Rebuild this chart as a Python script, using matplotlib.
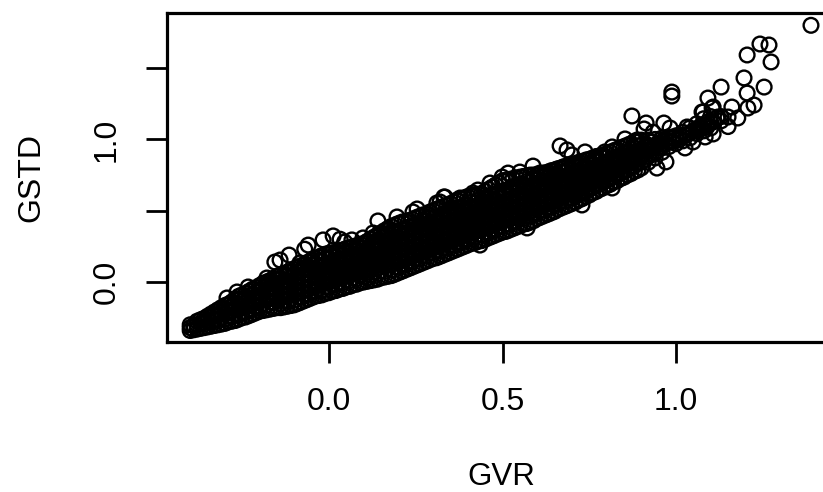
import matplotlib
matplotlib.use("Agg")
import matplotlib.pyplot as plt

plt.rcParams['font.family'] = ['Liberation Sans', 'DejaVu Sans']

# Individually readable points at the edges of the cloud
outlier_gvr = [1.389, 1.242, 1.268, 1.205, 1.274, 1.196, 1.254, 1.130, 1.205, 1.092, 1.225, 1.207, 1.161,
               1.107, 1.075, 1.150, 1.130, 1.150, 1.178, 0.988, 0.988, 0.873, 0.914, 0.965, 1.032, 0.908,
               0.983, 0.666, 0.686, 0.700, 0.738, 0.853, 0.816, 0.795, 0.588, 0.550, 0.516, 0.499, 0.464,
               0.429, 0.334, 0.378, 0.945, 0.971, 0.729, 0.816, 1.026, 1.049, 1.084, 1.107, -0.115, -0.156,
               -0.141, -0.060, -0.017, 0.012, 0.032, -0.265, -0.233, 0.141, 0.127, 0.196, 0.254, 0.331,
               0.320, 0.369, -0.070, 0.045, 0.765, 0.640, 1.060, 1.090,
               .888, .934, .954, .991, 1.04, 1.063, 1.078, 1.104, 1.121, 1.107, 1.089, 1.13, 1.118,
               .608, .631, .674, .767, .651, .744, .415, .435, .571, .066, .098, .167, .242, .311, -.179,
               -.294, -.084,
               .91, .93, .95, .97, .99, 1.01, 1.03, .91, .93, .95, .97, .99, .91, .93, 1.01, 1.05, 1.07, 1.09]
outlier_gstd = [1.80, 1.669, 1.662, 1.592, 1.543, 1.431, 1.367, 1.367, 1.325, 1.29, 1.241, 1.22, 1.227,
                1.227, 1.192, 1.157, 1.13, 1.09, 1.15, 1.332, 1.304, 1.164, 1.115, 1.115, 1.087, 1.073,
                1.08, 0.954, 0.926, 0.891, 0.912, 1.003, 0.947, 0.912, 0.813, 0.771, 0.764, 0.736, 0.694,
                0.645, 0.596, 0.589, 0.799, 0.842, 0.54, 0.659, 0.94, 0.982, 1.017, 1.038, 0.189, 0.14,
                0.154, 0.259, 0.295, 0.323, 0.30, -0.07, -0.035, 0.428, 0.344, 0.456, 0.512, 0.596,
                0.561, 0.575, 0.23, 0.28, 0.86, 0.76, 1.06, 1.10,
                .996, 1.05, .996, 1.01, 1.045, 1.066, 1.192, 1.22, 1.157, 1.122, 1.087, 1.16, 1.15,
                .764, .736, .806, .855, .785, .855, .624, .259, .379, .295, .309, .365, .491, .554, .028,
                -.112, .133,
                .86, .90, .94, .97, .985, 1.0, 1.03, .90, .94, .97, 1.0, 1.015, .95, .98, 1.03, 1.06, 1.09, 1.12]

# Dense band, read column by column: GVR of each column and the GSTD values in it
band_gvr = [-.40, -.38, -.36, -.34, -.32, -.30, -.28, -.26, -.24, -.22, -.20, -.18, -.16, -.14, -.12, -.10,
            -.08, -.06, -.04, -.02, 0.0, .02, .04, .06, .08, .10, .12, .14, .16, .18, .20, .22, .24, .26,
            .28, .30, .32, .34, .36, .38, .40, .42, .44, .46, .48, .50, .52, .54, .56, .58, .60, .62, .64,
            .66, .68, .70, .72, .74, .76, .78, .80, .82, .84, .86, .88, .90, .92, .94, .96, .98, 1.00,
            1.02, 1.04, 1.06, 1.08, 1.10]
band_gstd = [
    [-.34, -.32, -.30], [-.33, -.30, -.275], [-.32, -.285, -.255], [-.31, -.28, -.25, -.225],
    [-.30, -.265, -.23, -.195], [-.29, -.26, -.225, -.19, -.165], [-.275, -.24, -.205, -.17, -.14],
    [-.26, -.225, -.19, -.16, -.125, -.10], [-.245, -.21, -.175, -.14, -.105, -.08],
    [-.225, -.19, -.155, -.12, -.085, -.05], [-.205, -.17, -.135, -.10, -.065, -.025],
    [-.195, -.16, -.125, -.09, -.055, -.02, 0.0], [-.185, -.145, -.11, -.075, -.04, -.005, .025],
    [-.18, -.15, -.115, -.08, -.045, -.01, .025, .05], [-.17, -.135, -.10, -.06, -.025, .01, .045, .07],
    [-.16, -.125, -.09, -.055, -.02, .015, .05, .085], [-.14, -.105, -.07, -.03, .005, .04, .08, .115],
    [-.12, -.085, -.05, -.015, .02, .06, .10, .14], [-.10, -.065, -.03, .01, .05, .09, .13, .165],
    [-.09, -.055, -.015, .025, .065, .105, .145, .185], [-.075, -.035, .005, .045, .085, .125, .165, .20],
    [-.06, -.02, .02, .06, .10, .14, .175, .21], [-.045, -.005, .035, .075, .115, .155, .19, .225],
    [-.03, .01, .05, .09, .13, .17, .205, .24], [-.015, .025, .065, .105, .145, .185, .22, .255],
    [0.0, .04, .08, .12, .16, .20, .235, .27], [.01, .05, .09, .13, .17, .21, .25, .30],
    [.02, .06, .10, .14, .18, .22, .26, .295, .33], [.035, .075, .115, .155, .195, .235, .275, .32, .36],
    [.045, .085, .125, .165, .205, .245, .285, .325, .39], [.065, .105, .145, .185, .225, .265, .305, .35, .41],
    [.085, .125, .165, .205, .245, .285, .325, .365, .425], [.105, .145, .185, .225, .265, .305, .345, .385, .44],
    [.125, .165, .205, .245, .285, .325, .365, .405, .46], [.145, .185, .225, .265, .305, .345, .385, .43, .475],
    [.165, .205, .245, .285, .325, .365, .405, .445, .50], [.18, .22, .26, .30, .34, .38, .42, .46, .52],
    [.20, .24, .28, .32, .36, .40, .44, .48, .54], [.22, .26, .30, .34, .38, .42, .46, .50, .56],
    [.24, .28, .32, .36, .40, .44, .48, .52, .585], [.26, .30, .34, .38, .42, .46, .50, .54, .60],
    [.275, .315, .355, .395, .435, .475, .515, .555, .61], [.29, .33, .37, .41, .45, .49, .53, .57, .62],
    [.31, .35, .39, .43, .47, .51, .55, .59, .65], [.33, .37, .41, .45, .49, .53, .57, .61, .68],
    [.35, .39, .43, .47, .51, .55, .59, .63, .71], [.365, .405, .445, .485, .525, .565, .605, .645, .72],
    [.385, .425, .465, .505, .545, .585, .625, .665, .73], [.405, .445, .485, .525, .565, .605, .645, .685, .74],
    [.42, .46, .50, .54, .58, .62, .66, .70, .75], [.445, .485, .525, .565, .605, .645, .685, .72, .755],
    [.465, .505, .545, .585, .625, .665, .70, .735, .765], [.485, .525, .565, .605, .645, .685, .72, .78],
    [.51, .55, .59, .63, .67, .71, .75, .795], [.53, .57, .61, .65, .69, .73, .77, .81],
    [.55, .59, .63, .67, .71, .75, .79, .825], [.575, .615, .655, .695, .735, .775, .815, .84],
    [.60, .64, .68, .72, .76, .80, .855], [.625, .665, .705, .745, .785, .825, .87],
    [.65, .69, .73, .77, .81, .85, .885], [.675, .715, .755, .795, .835, .87, .90],
    [.70, .74, .78, .82, .86, .92], [.725, .765, .805, .845, .885, .94], [.75, .79, .83, .87, .91, .96],
    [.775, .815, .855, .895, .935, .985], [.80, .84, .88, .92, .96, .995], [.84, .88, .92, .96, .995],
    [.87, .91, .95, 1.0], [.91, .95, .985, 1.01], [.95, .985, 1.015], [.97, 1.0, 1.025], [.99, 1.02, 1.05],
    [1.01, 1.045, 1.08], [1.04, 1.075, 1.11], [1.06, 1.10, 1.145], [1.08, 1.12, 1.16],
]

# Second pass over the same band, read between the columns above
mid_gvr = [-.39, -.37, -.35, -.33, -.31, -.29, -.27, -.25, -.23, -.21, -.19, -.17, -.15, -.13, -.11, -.09,
           -.07, -.05, -.03, -.01, .01, .03, .05, .07, .09, .11, .13, .15, .17, .19, .21, .23, .25, .27,
           .29, .31, .33, .35, .37, .39, .41, .43, .45, .47, .49, .51, .53, .55, .57, .59, .61, .63, .65,
           .67, .69, .71, .73, .75, .77, .79, .81, .83, .85, .87, .89]
mid_gstd = [
    [-.335, -.305], [-.325, -.29, -.265], [-.315, -.27, -.24], [-.305, -.265, -.235, -.21],
    [-.295, -.25, -.21, -.18], [-.28, -.24, -.205, -.155], [-.27, -.225, -.185, -.15, -.12],
    [-.25, -.21, -.17, -.13, -.09], [-.235, -.195, -.155, -.12, -.065], [-.215, -.175, -.135, -.10, -.07, -.04],
    [-.20, -.15, -.115, -.08, -.04, -.01], [-.19, -.14, -.105, -.07, -.035, .01], [-.18, -.13, -.09, -.055, -.02, .015, .04],
    [-.175, -.13, -.095, -.06, -.025, .01, .055], [-.165, -.115, -.08, -.04, -.005, .03, .075],
    [-.15, -.105, -.07, -.035, 0.0, .035, .07, .10], [-.13, -.085, -.05, -.01, .025, .06, .10, .125],
    [-.11, -.065, -.03, .005, .04, .08, .12, .155], [-.095, -.045, -.01, .03, .07, .11, .15, .175],
    [-.08, -.035, .005, .045, .085, .125, .165, .195], [-.065, -.015, .025, .065, .105, .145, .18, .205],
    [-.05, -.005, .04, .08, .12, .16, .195, .22], [-.035, .015, .055, .095, .135, .175, .21, .235],
    [-.02, .03, .07, .11, .15, .19, .225, .25], [-.005, .045, .085, .125, .165, .205, .24, .265],
    [.005, .03, .07, .11, .15, .19, .23, .27, .285], [.015, .07, .11, .15, .19, .23, .27, .315],
    [.03, .08, .12, .16, .20, .24, .28, .31, .345], [.04, .095, .135, .175, .215, .255, .295, .34, .375],
    [.055, .105, .145, .185, .225, .265, .305, .345, .40], [.075, .125, .165, .205, .245, .285, .325, .37, .42],
    [.095, .145, .185, .225, .265, .305, .345, .385, .43], [.115, .165, .205, .245, .285, .325, .365, .405, .45],
    [.135, .185, .225, .265, .305, .345, .385, .425, .47], [.155, .205, .245, .285, .325, .365, .405, .45, .49],
    [.17, .22, .26, .30, .34, .38, .42, .46, .51], [.19, .24, .28, .32, .36, .40, .44, .48, .53],
    [.21, .26, .30, .34, .38, .42, .46, .50, .55], [.23, .28, .32, .36, .40, .44, .48, .52, .57],
    [.25, .30, .34, .38, .42, .46, .50, .54, .59], [.27, .32, .36, .40, .44, .48, .52, .56, .605],
    [.285, .335, .375, .415, .455, .495, .535, .575, .615], [.30, .35, .39, .43, .47, .51, .55, .59, .635],
    [.32, .37, .41, .45, .49, .53, .57, .61, .665], [.34, .39, .43, .47, .51, .55, .59, .63, .695],
    [.355, .405, .445, .485, .525, .565, .605, .645, .715], [.375, .425, .465, .505, .545, .585, .625, .665, .725],
    [.395, .445, .485, .525, .565, .605, .645, .685, .735], [.41, .465, .505, .545, .585, .625, .665, .705, .745],
    [.43, .48, .52, .56, .60, .64, .68, .72, .75], [.455, .505, .545, .585, .625, .665, .705, .76],
    [.475, .525, .565, .605, .645, .685, .725, .77], [.495, .545, .585, .625, .665, .705, .745, .785],
    [.52, .57, .61, .65, .69, .73, .77, .80], [.54, .59, .63, .67, .71, .75, .79, .815],
    [.56, .61, .65, .69, .73, .77, .81, .83], [.585, .635, .675, .715, .755, .795, .845],
    [.61, .66, .70, .74, .78, .82, .86], [.635, .685, .725, .765, .805, .845, .88],
    [.66, .71, .75, .79, .83, .87, .89], [.685, .735, .775, .815, .855, .91],
    [.71, .76, .80, .84, .88, .93], [.735, .785, .825, .865, .905, .95],
    [.76, .81, .85, .89, .93, .97], [.785, .835, .875, .915, .955, .99],
]

x_ticks = [0.0, 0.5, 1.0]
x_tick_labels = ['0.0', '0.5', '1.0']
y_ticks = [0.0, 0.5, 1.0, 1.5]
y_tick_labels = ['0.0', '', '1.0', '']

W, H = 823, 492
fig = plt.figure(figsize=(W / 100, H / 100), dpi=100)
ax = fig.add_axes([166.5 / W, 1 - 341.5 / H, (832 - 166.5) / W, (341.5 - 13) / H])
ax.set_xlim((166.5 - 329) / 347, (832 - 329) / 347)
ax.set_ylim((282 - 341.5) / 142.6, (282 - 13) / 142.6)

xs = ([x for x, col in zip(band_gvr, band_gstd) for _ in col]
      + [x for x, col in zip(mid_gvr, mid_gstd) for _ in col] + outlier_gvr)
ys = [y for col in band_gstd for y in col] + [y for col in mid_gstd for y in col] + outlier_gstd
ax.scatter(xs, ys, s=112, facecolors='none', edgecolors='black', linewidths=1.7, clip_on=True)

for s in ax.spines.values():
    s.set_linewidth(2.3)
ax.set_xticks(x_ticks, x_tick_labels)
ax.set_yticks(y_ticks, y_tick_labels)
ax.tick_params(axis='x', length=15, width=2.0, labelsize=23, pad=18)
ax.tick_params(axis='y', length=15, width=2.0, labelsize=23, pad=17)
for t in ax.get_yticklabels():
    t.set_rotation(90)
    t.set_va('center')

fig.text(501 / W, 1 - 477 / H, 'GVR', fontsize=22.5, ha='center', va='center')
fig.text(31 / W, 1 - 178 / H, 'GSTD', fontsize=23, ha='center', va='center', rotation=90)

fig.savefig('out.png', dpi=100)
